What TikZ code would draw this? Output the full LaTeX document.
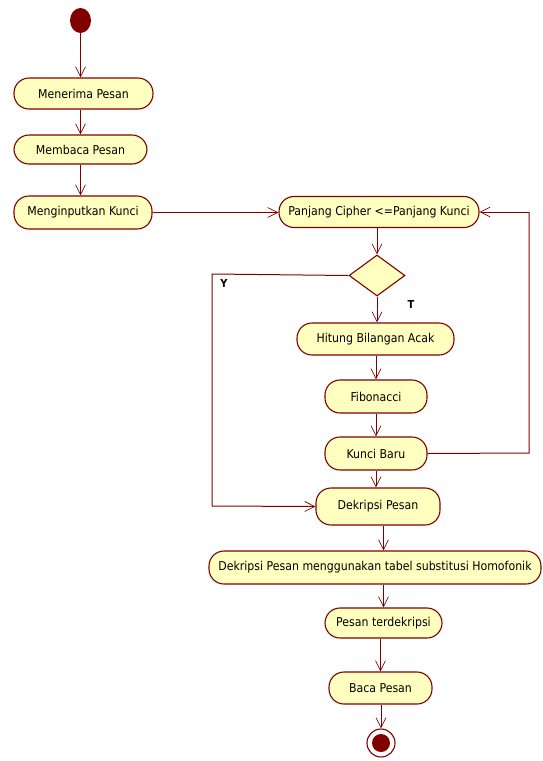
\documentclass[tikz,border=0pt]{standalone}
\usepackage{fontspec}
\setmainfont{DejaVu Sans Condensed}
\usetikzlibrary{arrows.meta,shapes.geometric}
\definecolor{umlred}{RGB}{128,0,0}
\definecolor{umlfill}{RGB}{255,255,192}
\tikzset{
  act/.style={draw=umlred, fill=umlfill, line width=1.1pt, rounded corners=15pt,
    minimum height=31pt, inner sep=0pt, font=\fontsize{12.2}{14}\selectfont},
  flow/.style={draw=umlred, line width=1pt, -{Straight Barb[length=10pt,width=10pt,line width=0.7pt]}},
  plain/.style={draw=umlred, line width=1pt},
  dec/.style={diamond, draw=umlred, fill=umlfill, line width=1.1pt, minimum width=56pt, minimum height=41pt, inner sep=0pt, aspect=1.37},
  lbl/.style={font=\bfseries\fontsize{11}{13}\selectfont}
}
\begin{document}
\begin{tikzpicture}[x=1pt,y=-1pt]
\useasboundingbox (0,0) rectangle (542,761);
\fill[white] (0,0) rectangle (542,761);
\node[ellipse, fill=umlred, minimum width=21pt, minimum height=25pt, inner sep=0pt] (start) at (80.5,20.5) {};
\node[act, minimum width=139pt] (a1) at (83.5,93.5) {Menerima Pesan};
\node[act, minimum width=133pt, minimum height=29pt] (a2) at (80.5,149.5) {Membaca Pesan};
\node[act, minimum width=138pt, minimum height=33pt] (a3) at (83,212.5) {Menginputkan Kunci};
\node[act, minimum width=200pt] (p) at (379,212) {Panjang Cipher \textless=Panjang Kunci};
\node[dec] (d) at (377,275.5) {};
\node[act, minimum width=157pt, minimum height=32pt] (h) at (375.5,339) {Hitung Bilangan Acak};
\node[act, minimum width=102pt, minimum height=33pt] (f) at (376,396.5) {Fibonacci};
\node[act, minimum width=102pt, minimum height=33pt] (k) at (376,453.5) {Kunci Baru};
\node[act, minimum width=124pt, minimum height=37pt] (dp) at (378,506.5) {Dekripsi Pesan};
\node[act, minimum width=332pt, minimum height=33pt] (dh) at (375,567.5) {Dekripsi Pesan menggunakan tabel substitusi Homofonik};
\node[act, minimum width=117pt, minimum height=30pt] (pt) at (383.5,623) {Pesan terdekripsi};
\node[act, minimum width=103pt, minimum height=32pt] (bp) at (380.5,688) {Baca Pesan};
\node[circle, draw=umlred, line width=1.1pt, fill=white, minimum size=28pt, inner sep=0pt] (end) at (381,743) {};
\node[circle, fill=umlred, minimum size=18pt, inner sep=0pt] at (end) {};
\node[lbl] (ly) at (224,283) {Y};
\node[lbl] (lt) at (411,304) {T};
\coordinate (yc1) at (212,274);
\coordinate (yc2) at (212,506);
\coordinate (kc1) at (529,453);
\coordinate (kc2) at (529,212);
\draw[flow] (start) -- (start |- a1.north);
\draw[flow] (a1.south -| a2.north) -- (a2.north);
\draw[flow] (a2.south) -- (a2.south |- a3.north);
\draw[flow] (a3.east) -- (a3.east -| p.west);
\draw[flow] (p.south -| d.north) -- (d.north);
\draw[flow] (d.south) -- (d.south |- h.north);
\draw[flow] (h.south -| f.north) -- (f.north);
\draw[flow] (f.south) -- (k.north);
\draw[flow] (k.south) -- (k.south |- dp.north);
\draw[plain] (d.west) -- (yc1) -- (yc2);
\draw[flow] (yc2) -- (dp.west);
\draw[plain] (k.east) -- (kc1) -- (kc2);
\draw[flow] (kc2) -- (p.east);
\draw[flow] (dp.south -| pt.north) -- (pt.north |- dh.north);
\draw[flow] (dh.south -| pt.north) -- (pt.north);
\draw[flow] (pt.south -| bp.north) -- (bp.north);
\draw[flow] (bp.south -| end.north) -- (end.north);
\end{tikzpicture}
\end{document}
